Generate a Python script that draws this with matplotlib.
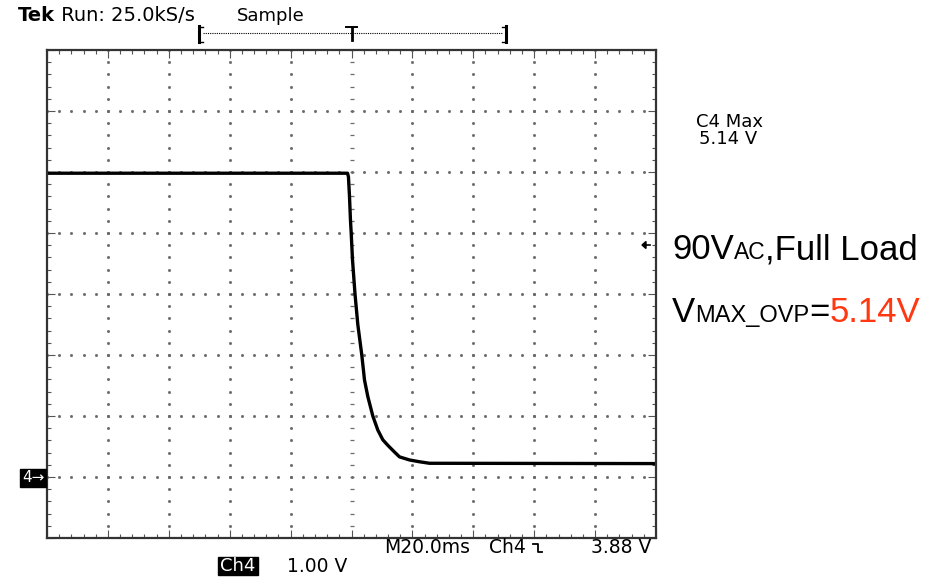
import numpy as np
import matplotlib
matplotlib.use("Agg")
import matplotlib.pyplot as plt
from matplotlib.lines import Line2D
from matplotlib.patches import Rectangle, Polygon

##############################
# data (ms, volts)
##############################

t_ms = [-100, -1.3, -1.0, -0.66, -0.33, -0.1, 0.33, 1.15, 2.07, 3.38, 4.27,
        5.35, 7.0, 8.64, 10.28, 11.92, 14.1, 15.76, 19.0, 22.3, 25.6, 100]
ch4_v = [4.98, 4.98, 4.92, 4.6, 4.2, 4.0, 3.56, 3.0, 2.5, 2.0, 1.59,
         1.32, 1.0, 0.77, 0.61, 0.52, 0.41, 0.33, 0.28, 0.25, 0.225, 0.22]

t_div = 20.0     # ms / div
v_div = 1.0      # V / div
ground = 0.0

header_bold = "Tek"
header_rest = " Run: 25.0kS/s"
mode_label = "Sample"
meas_label = ["C4 Max", "5.14 V"]
bottom_line1 = ["M20.0ms", "Ch4", "3.88 V"]
bottom_line2 = ["Ch4", "1.00 V"]
note_1 = [("90V", 25), ("AC", 16.5), (",Full Load", 25)]
note_2 = [("V", 25, "black"), ("MAX_OVP", 17, "black"), ("=", 25, "black"),
          ("5.14V", 25, "#ff3812")]

W, H = 943, 579
fig = plt.figure(figsize=(W / 100, H / 100), dpi=100)
fig.patch.set_facecolor("white")
ax = fig.add_axes([47 / W, 1 - 538 / H, (656 - 47) / W, (538 - 50) / H])


def fx(x):
    return x / W


def fy(y):
    return 1 - y / H


##############################
# graticule
##############################

x_lo, x_hi = -5 * t_div, 5 * t_div
y_lo, y_hi = ground - 1 * v_div, ground + 7 * v_div
ax.set_xlim(x_lo, x_hi)
ax.set_ylim(y_lo, y_hi)

dot_kw = dict(color="#6a6a6a", marker="s", markersize=1.0, linestyle="none")
for k in range(1, 10):
    xv = x_lo + k * t_div
    ys = np.arange(y_lo, y_hi + 1e-9, v_div / 5)
    if k == 5:
        ax.plot(np.full_like(ys, xv), ys, color="#6a6a6a", marker="_",
                markersize=2.5, linestyle="none", markeredgewidth=0.9)
    else:
        ax.plot(np.full_like(ys, xv), ys, **dot_kw)
for k in range(1, 8):
    yv = y_lo + k * v_div
    xs = np.arange(x_lo, x_hi + 1e-9, t_div / 5)
    ax.plot(xs, np.full_like(xs, yv), **dot_kw)

ax.set_xticks(np.arange(x_lo, x_hi + 1e-9, t_div))
ax.set_xticks(np.arange(x_lo, x_hi + 1e-9, t_div / 5), minor=True)
ax.set_yticks(np.arange(y_lo, y_hi + 1e-9, v_div))
ax.set_yticks(np.arange(y_lo, y_hi + 1e-9, v_div / 5), minor=True)
ax.tick_params(which="both", direction="in", top=True, right=True,
               labelbottom=False, labelleft=False, color="#555555")
ax.tick_params(which="major", length=6, width=0.8)
ax.tick_params(which="minor", length=3, width=0.8)
for s in ax.spines.values():
    s.set_linewidth(1.6)
    s.set_color("#333333")

# trace
ax.plot(t_ms, ch4_v, color="black", linewidth=2.4)

##############################
# screen text
##############################

rend = fig.canvas.get_renderer()


def chain(parts, x, y):
    for txt, kw in parts:
        t = fig.text(fx(x), fy(y), txt, va="baseline", ha="left", **kw)
        bb = t.get_window_extent(renderer=rend)
        x += bb.width


scope_font = dict(family="DejaVu Sans", fontsize=13)
big_scope = dict(family="DejaVu Sans", fontsize=14)
chain([(header_bold, dict(fontweight="bold", **big_scope)),
       (header_rest, big_scope)], 18, 21)
fig.text(fx(237), fy(21), mode_label, va="baseline", ha="left", **scope_font)

# trigger position bracket
fig.add_artist(Line2D([fx(203), fx(503)], [fy(33), fy(33)], color="black",
                      linewidth=0.8, linestyle=(0, (1, 1))))
fig.add_artist(Line2D([fx(199), fx(199)], [fy(26), fy(42)], color="black", linewidth=2.2))
fig.add_artist(Line2D([fx(199), fx(203)], [fy(26.5), fy(26.5)], color="black", linewidth=1))
fig.add_artist(Line2D([fx(199), fx(203)], [fy(41.5), fy(41.5)], color="black", linewidth=1))
fig.add_artist(Line2D([fx(506), fx(506)], [fy(26), fy(42)], color="black", linewidth=2.2))
fig.add_artist(Line2D([fx(502), fx(506)], [fy(26.5), fy(26.5)], color="black", linewidth=1))
fig.add_artist(Line2D([fx(502), fx(506)], [fy(41.5), fy(41.5)], color="black", linewidth=1))
fig.add_artist(Line2D([fx(346), fx(357)], [fy(27), fy(27)], color="black", linewidth=1.4))
fig.add_artist(Line2D([fx(351.5), fx(351.5)], [fy(27), fy(40)], color="black", linewidth=2))

# measurement
fig.text(fx(729), fy(127), meas_label[0], va="baseline", ha="center", **scope_font)
fig.text(fx(728), fy(144), meas_label[1], va="baseline", ha="center", **scope_font)

# trigger level marker on right edge
fig.add_artist(Polygon([[fx(642), fy(245)], [fx(646), fy(241.5)], [fx(646), fy(248.5)]],
                       closed=True, color="black"))
fig.add_artist(Line2D([fx(645), fx(650)], [fy(245), fy(245)], color="black", linewidth=1.2))

# ground marker
fig.add_artist(Rectangle((fx(20), fy(487)), (46 - 20) / W, (487 - 469) / H,
                         color="black", transform=fig.transFigure))
fig.text(fx(33), fy(478), "4\u2192", color="white", ha="center", va="center",
         family="DejaVu Sans", fontsize=11)

# bottom readouts
bottom_font = dict(family="DejaVu Sans", fontsize=13.5)
fig.text(fx(384), fy(553), bottom_line1[0], va="baseline", ha="left", **bottom_font)
fig.text(fx(489), fy(553), bottom_line1[1], va="baseline", ha="left", **bottom_font)
fig.add_artist(Line2D([fx(533), fx(538), fx(538), fx(542)],
                      [fy(543.5), fy(543.5), fy(552), fy(552)],
                      color="black", linewidth=1.3))
fig.text(fx(651), fy(553), bottom_line1[2], va="baseline", ha="right", **bottom_font)

fig.add_artist(Rectangle((fx(218), fy(575)), (258 - 218) / W, (575 - 557) / H,
                         color="black", transform=fig.transFigure))
fig.text(fx(238), fy(566), bottom_line2[0], color="white", ha="center", va="center",
         **scope_font)
fig.text(fx(287), fy(572), bottom_line2[1], va="baseline", ha="left", **bottom_font)

# slide annotations
ann = "Liberation Sans"
chain([(s, dict(family=ann, fontsize=fs)) for s, fs in note_1], 672, 259)
chain([(s, dict(family=ann, fontsize=fs, color=c)) for s, fs, c in note_2], 672, 322)

plt.savefig("out.png", dpi=100, facecolor="white")
